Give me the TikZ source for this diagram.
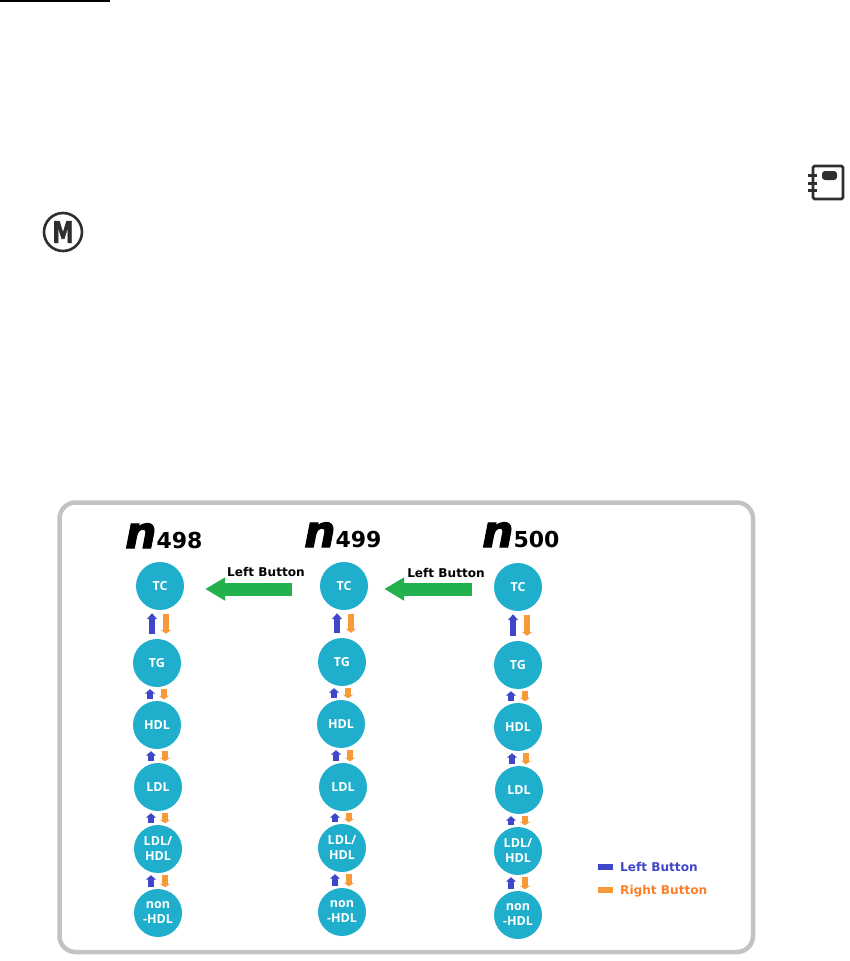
\documentclass[tikz,border=0pt]{standalone}
\usepackage{xcolor}
\usepackage{fontspec}
\setmainfont{Open Sans}
\newfontfamily\labelfont{DejaVu Sans}
\newfontfamily\heavyfont{DejaVu Sans}[BoldFeatures={FakeBold=2},BoldItalicFeatures={FakeBold=2.5}]
\usetikzlibrary{arrows.meta}
\definecolor{lipid}{HTML}{1FAFCD}
\definecolor{leftblue}{HTML}{4046C8}
\definecolor{rightorange}{HTML}{F99A3A}
\definecolor{keyorange}{HTML}{FF7F27}
\definecolor{stepgreen}{HTML}{22B14C}
\definecolor{framegray}{HTML}{C3C3C3}
\definecolor{icongray}{HTML}{2E2E2E}

\begin{document}
\begin{tikzpicture}[
  x=1pt, y=-1pt,
  lipid/.style={circle, fill=lipid, text=white, minimum size=48pt, inner sep=0pt, align=center, font=\bfseries\fontsize{12.5}{15}\selectfont},
  upsmall/.style={-{Triangle[length=4.5pt,width=10pt]}, line width=5.5pt, leftblue, shorten <=1.5pt, shorten >=2pt},
  downsmall/.style={-{Triangle[length=3.5pt,width=10pt]}, line width=5.5pt, rightorange, shorten <=2pt, shorten >=1.5pt},
  upbig/.style={-{Triangle[length=6pt,width=10pt]}, line width=6pt, leftblue, shorten <=5pt, shorten >=2pt},
  downbig/.style={-{Triangle[length=4pt,width=10pt]}, line width=6.5pt, rightorange, shorten <=3pt, shorten >=5pt},
  stepnext/.style={-{Triangle[length=20pt,width=22pt]}, line width=13pt, stepgreen},
  title/.style={anchor=base west, inner sep=0pt, font=\labelfont\bfseries\fontsize{22}{22}\selectfont},
  button/.style={inner sep=0pt, font=\labelfont\bfseries\fontsize{12.1}{12}\selectfont},
  legend/.style={line width=5.5pt}
]
  \useasboundingbox (0,0) rectangle (849,961);
  \fill[black] (0,0) rectangle (110,2.4);

  % icons
  \draw[icongray, line width=2.6pt, rounded corners=1.5pt] (813,166) rectangle (843,199);
  \fill[icongray, rounded corners=3pt] (822,171) rectangle (837,180);
  \foreach \y in {175,183,190} \draw[icongray, line width=3pt] (808,\y) -- (817,\y);
  \node[circle, draw=icongray, line width=2.6pt, minimum size=38pt, inner sep=0pt, text=icongray, font=\heavyfont\bfseries\fontsize{30}{30}\selectfont] (mark) at (63,232) {\scalebox{0.72}[1]{M}};

  \draw[framegray, line width=4.5pt, rounded corners=16pt] (59.5,502.5) rectangle (753,952);

  % titles
  \node[title] (n498) at (125,548) {{\heavyfont\bfseries\itshape\fontsize{44}{44}\selectfont n}498};
  \node[title] (n499) at (304,547) {{\heavyfont\bfseries\itshape\fontsize{44}{44}\selectfont n}499};
  \node[title] (n500) at (482,547) {{\heavyfont\bfseries\itshape\fontsize{44}{44}\selectfont n}500};

  % left column
  \node[lipid] (tc498) at (160,586) {TC};
  \node[lipid] (tg498) at (157,663) {TG};
  \node[lipid] (hdl498) at (157,725) {HDL};
  \node[lipid] (ldl498) at (158,787) {LDL};
  \node[lipid] (mix498) at (158,849) {LDL/\\HDL};
  \node[lipid] (non498) at (158,913) {non\\-HDL};

  % middle column
  \node[lipid] (tc499) at (344,586) {TC};
  \node[lipid] (tg499) at (342,662) {TG};
  \node[lipid] (hdl499) at (341,724) {HDL};
  \node[lipid] (ldl499) at (343,787) {LDL};
  \node[lipid] (mix499) at (342,848) {LDL/\\HDL};
  \node[lipid] (non499) at (342,912) {non\\-HDL};

  % right column
  \node[lipid] (tc500) at (518,587) {TC};
  \node[lipid] (tg500) at (518,665) {TG};
  \node[lipid] (hdl500) at (518,727) {HDL};
  \node[lipid] (ldl500) at (519,790) {LDL};
  \node[lipid] (mix500) at (518,851) {LDL/\\HDL};
  \node[lipid] (non500) at (518,915) {non\\-HDL};

  \foreach \c in {498,499,500} {
    \draw[upbig] ([xshift=-5pt]tg\c.north) -- ([xshift=-5pt,yshift=-1pt]tc\c.south -| tg\c.north);
    \draw[downbig] ([xshift=9pt,yshift=-1pt]tc\c.south -| tg\c.north) -- ([xshift=9pt]tg\c.north);
    \foreach \i/\j in {hdl/tg,ldl/hdl,mix/ldl,non/mix} {
      \draw[upsmall] ([xshift=-7pt]\i\c.north) -- ([xshift=-7pt]\j\c.south -| \i\c.north);
      \draw[downsmall] ([xshift=7pt]\j\c.south -| \i\c.north) -- ([xshift=7pt]\i\c.north);
    }
  }

  % step arrows
  \draw[stepnext, shorten <=28pt, shorten >=21pt] ([yshift=-3pt]tc499.west) -- ([yshift=-3pt]tc498.east);
  \draw[stepnext, shorten <=22pt, shorten >=16pt] ([yshift=-2pt]tc500.west) -- ([yshift=-3pt]tc499.east);
  \node[button] (step498) at (266,572) {Left Button};
  \node[button] (step499) at (446,573) {Left Button};

  % legend
  \draw[legend, leftblue] (598,867) -- (613,867);
  \draw[legend, rightorange] (598,890) -- (613,890);
  \node[button, anchor=west, text=leftblue] (leftkey) at (620,867) {Left Button};
  \node[button, anchor=west, text=keyorange] (rightkey) at (620,891) {Right Button};
\end{tikzpicture}
\end{document}
